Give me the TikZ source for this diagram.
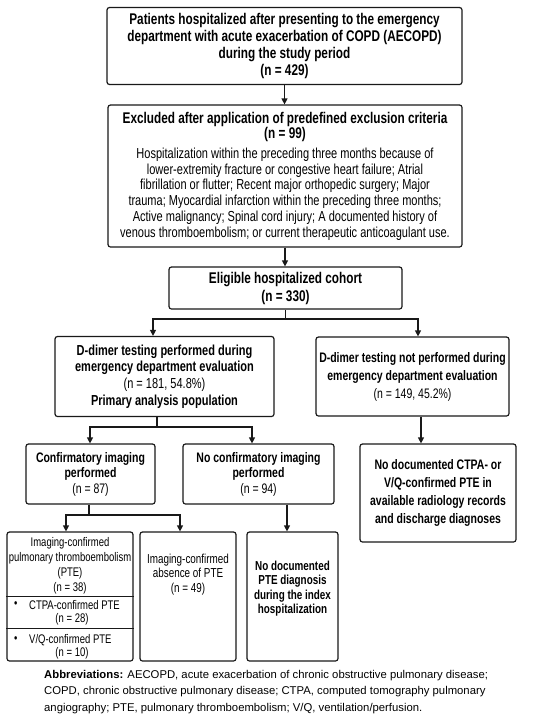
\documentclass[tikz,border=0pt]{standalone}
\usepackage{fontspec}
\setmainfont{Liberation Sans}
\newfontfamily\nar{Liberation Sans}[FakeStretch=0.76]
\usetikzlibrary{arrows.meta}
\begin{document}
\begin{tikzpicture}[x=1pt,y=-1pt,
  box/.style={draw=black!90, line width=1.2pt, rounded corners=2.5pt, inner sep=0pt, align=center},
  ln/.style={draw=black!90, line width=1.2pt},
  arr/.style={ln, -{Triangle[length=6pt,width=6pt]}},
  txt/.style={inner sep=0pt, align=center}]
\fill[white] (0,0) rectangle (550,718);
\useasboundingbox (0,0) rectangle (550,718);

\node[box, minimum width=355pt, minimum height=77pt, font=\nar\bfseries\fontsize{15.5}{16.7}\selectfont] (b1) at (284.5,46)
 {Patients hospitalized after presenting to the emergency\\department with acute exacerbation of COPD (AECOPD)\\during the study period\\(n = 429)};

\node[box, minimum width=354pt, minimum height=142pt, font=\nar\fontsize{14.5}{15.7}\selectfont] (b2) at (285,176)
 {\bfseries\fontsize{15.5}{16}\selectfont Excluded after application of predefined exclusion criteria\\
  \bfseries\fontsize{15.5}{16}\selectfont (n = 99)\\[4pt]
  Hospitalization within the preceding three months because of\\
  lower-extremity fracture or congestive heart failure; Atrial\\
  fibrillation or flutter; Recent major orthopedic surgery; Major\\
  trauma; Myocardial infarction within the preceding three months;\\
  Active malignancy; Spinal cord injury; A documented history of\\
  venous thromboembolism; or current therapeutic anticoagulant use.};

\node[box, minimum width=233pt, minimum height=42pt, font=\nar\bfseries\fontsize{15.5}{18}\selectfont] (b3) at (285.5,288)
 {Eligible hospitalized cohort\\(n = 330)};

\node[box, minimum width=219pt, minimum height=80pt, font=\nar\fontsize{14.5}{16.8}\selectfont] (b4) at (164.5,376.5)
 {\bfseries D-dimer testing performed during\\\bfseries emergency department evaluation\\(n = 181, 54.8\%)\\\bfseries Primary analysis population};

\node[box, minimum width=193pt, minimum height=79pt, font=\nar\fontsize{13.8}{18}\selectfont] (b5) at (412.5,376.5)
 {\bfseries D-dimer testing not performed during\\\bfseries emergency department evaluation\\(n = 149, 45.2\%)};

\node[box, minimum width=129pt, minimum height=60pt, font=\nar\fontsize{13.8}{15.5}\selectfont] (b6) at (90.5,474)
 {\bfseries Confirmatory imaging\\\bfseries performed\\(n = 87)};

\node[box, minimum width=151pt, minimum height=60pt, font=\nar\fontsize{13.8}{15.5}\selectfont] (b7) at (258.5,474)
 {\bfseries No confirmatory imaging\\\bfseries performed\\(n = 94)};

\node[box, minimum width=156pt, minimum height=98pt, font=\nar\bfseries\fontsize{13.8}{18.3}\selectfont] (b8) at (438,493)
 {No documented CTPA- or\\V/Q-confirmed PTE in\\available radiology records\\and discharge diagnoses};

\node[box, minimum width=126pt, minimum height=129pt] (b9) at (70,596.5) {};
\node[box, minimum width=96pt, minimum height=129pt] (b10) at (188,596.5) {};
\node[box, minimum width=91pt, minimum height=129pt] (b11) at (292.5,596.5) {};

\draw[ln] ([yshift=-65pt]b9.north west) -- ([yshift=-65pt]b9.north east);
\draw[ln] ([yshift=-97pt]b9.north west) -- ([yshift=-97pt]b9.north east);

\node[txt, font=\nar\fontsize{12.5}{15}\selectfont] (t9) at (70,565.5)
 {Imaging-confirmed\\pulmonary thromboembolism\\(PTE)\\(n = 38)};
\node[txt, anchor=west, font=\nar\fontsize{12.5}{15}\selectfont] (t9b1) at (14,605) {•};
\node[txt, anchor=west, font=\nar\fontsize{12.5}{15}\selectfont] (t9a) at (29,605) {CTPA-confirmed PTE};
\node[txt, font=\nar\fontsize{12.5}{15}\selectfont] (t9an) at (72,619) {(n = 28)};
\node[txt, anchor=west, font=\nar\fontsize{12.5}{15}\selectfont] (t9b2) at (14,640) {•};
\node[txt, anchor=west, font=\nar\fontsize{12.5}{15}\selectfont] (t9b) at (29,640) {V/Q-confirmed PTE};
\node[txt, font=\nar\fontsize{12.5}{15}\selectfont] (t9bn) at (72,653) {(n = 10)};

\node[txt, font=\nar\fontsize{13}{14.5}\selectfont] (t10) at (188,574.5)
 {Imaging-confirmed\\absence of PTE\\(n = 49)};
\node[txt, font=\nar\bfseries\fontsize{13}{14.5}\selectfont] (t11) at (292.5,588.5)
 {No documented\\PTE diagnosis\\during the index\\hospitalization};

\node[txt, anchor=west, align=left, font=\fontsize{11.3}{16.5}\selectfont] (abbr) at (44,692)
 {\textbf{Abbreviations:} AECOPD, acute exacerbation of chronic obstructive pulmonary disease;\\
  COPD, chronic obstructive pulmonary disease; CTPA, computed tomography pulmonary\\
  angiography; PTE, pulmonary thromboembolism; V/Q, ventilation/perfusion.};

% connectors
\draw[arr] (b1.south) -- (b1.south |- b2.north);
\draw[arr] (b2.south) -- (b2.south |- b3.north);
\coordinate (j1) at (285,319);
\draw[ln] (b3.south) -- (b3.south |- j1);
\draw[arr] (j1) -| ([xshift=-11.5pt]b4.north);
\draw[arr] (j1) -| ([xshift=5.5pt]b5.north);
\coordinate (j2) at (157,427);
\draw[ln] ([xshift=-7.5pt]b4.south) -- (j2);
\draw[arr] (j2) -| ([xshift=-0.5pt]b6.north);
\draw[arr] (j2) -| ([xshift=-6.5pt]b7.north);
\draw[arr] ([xshift=8.5pt]b5.south) -- ([xshift=8.5pt]b5.south |- b8.north);
\coordinate (j3) at (89,515);
\draw[ln] ([xshift=-1.5pt]b6.south) -- (j3);
\draw[arr] (j3) -| ([xshift=-4pt]b9.north);
\draw[arr] (j3) -| ([xshift=-8pt]b10.north);
\draw[arr] ([xshift=28.5pt]b7.south) -- ([xshift=28.5pt]b7.south |- b11.north);
\end{tikzpicture}
\end{document}
